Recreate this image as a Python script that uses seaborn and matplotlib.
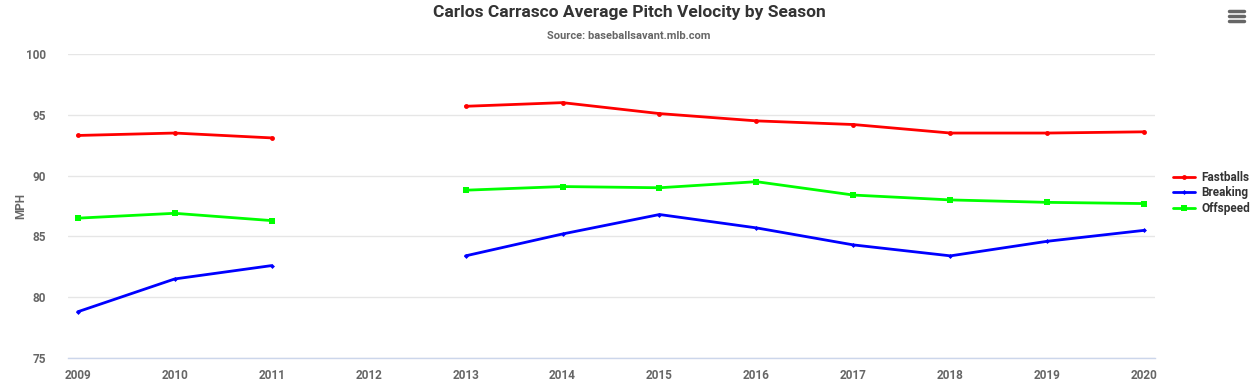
import pandas as pd
import matplotlib.pyplot as plt
import matplotlib.lines as mlines
import numpy as np
import seaborn as sns

# -----------------------------
# datos
# -----------------------------
seasons = [2009, 2010, 2011, 2012, 2013, 2014, 2015, 2016, 2017, 2018, 2019, 2020]
fastballs = [93.3, 93.5, 93.1, np.nan, 95.7, 96.0, 95.1, 94.5, 94.2, 93.5, 93.5, 93.6]
breaking = [78.8, 81.5, 82.6, np.nan, 83.4, 85.2, 86.8, 85.7, 84.3, 83.4, 84.6, 85.5]
offspeed = [86.5, 86.9, 86.3, np.nan, 88.8, 89.1, 89.0, 89.5, 88.4, 88.0, 87.8, 87.7]
pitch_names = ["Fastballs", "Breaking", "Offspeed"]
y_ticks = [75, 80, 85, 90, 95, 100]

colores = {"Fastballs": "#ff0000", "Breaking": "#0000ff", "Offspeed": "#00ff00"}
marcadores = {"Fastballs": "o", "Breaking": "D", "Offspeed": "s"}
tam_marcador = {"Fastballs": 3.5, "Breaking": 2.5, "Offspeed": 4}

# tabla larga, con un "tramo" para cortar la linea en 2012
filas = []
for nombre, valores in zip(pitch_names, [fastballs, breaking, offspeed]):
    tramo = 0
    for s, v in zip(seasons, valores):
        if np.isnan(v):
            tramo += 1
            continue
        filas.append({"season": s, "mph": v, "pitch": nombre, "tramo": tramo})
df = pd.DataFrame(filas)

sns.set_theme(style="white")
plt.rcParams["font.family"] = ["Roboto", "DejaVu Sans"]

fig = plt.figure(figsize=(12.58, 3.91), dpi=100)
ax = fig.add_axes([68 / 1258, 1 - 358 / 391, (1155 - 68) / 1258, (358 - 54) / 391])

for nombre in pitch_names:
    sub = df[df["pitch"] == nombre]
    sns.lineplot(data=sub, x="season", y="mph", units="tramo", estimator=None,
                 color=colores[nombre], marker=marcadores[nombre],
                 markersize=tam_marcador[nombre], markeredgewidth=0,
                 linewidth=2, ax=ax, legend=False)

ax.set_xlim(seasons[0] - 0.1, seasons[-1] + 0.11)
ax.set_ylim(75, 100)
ax.set_xticks(seasons)
ax.set_xticklabels([str(s) for s in seasons])
ax.set_yticks(y_ticks)
ax.yaxis.grid(True, color="#e6e6e6", linewidth=1)
ax.xaxis.grid(False)
for lado in ["top", "right", "left"]:
    ax.spines[lado].set_visible(False)
ax.spines["bottom"].set_color("#ccd6eb")
ax.spines["bottom"].set_linewidth(1)
ax.tick_params(axis="x", colors="#ccd6eb", length=5, width=1, direction="out", pad=3)
ax.tick_params(axis="y", length=0, pad=16)
for t in ax.get_xticklabels() + ax.get_yticklabels():
    t.set_color("#666666")
    t.set_fontsize(8.5)
    t.set_fontweight("bold")

ax.set_xlabel("")
ax.set_ylabel("MPH", color="#666666", fontsize=8.5, fontweight="bold")
ax.yaxis.set_label_coords((27 - 68) / 1087, 0.5)

fig.text(0.5, 1 - 13 / 391, "Carlos Carrasco Average Pitch Velocity by Season",
         ha="center", va="center", fontsize=12.5, fontweight="bold", color="#333333")
fig.text(0.5, 1 - 36 / 391, "Source: baseballsavant.mlb.com",
         ha="center", va="center", fontsize=8, fontweight="bold", color="#666666")

# leyenda a la derecha
handles = [mlines.Line2D([], [], color=colores[n], marker=marcadores[n],
                         markersize=tam_marcador[n], markeredgewidth=0, linewidth=2)
           for n in pitch_names]
leg = fig.legend(handles, pitch_names, loc="center left",
                 bbox_to_anchor=(1173 / 1258, 1 - 193 / 391), frameon=False,
                 borderpad=0, borderaxespad=0,
                 handlelength=1.9, handletextpad=0.5, labelspacing=0.2,
                 prop={"weight": "bold", "size": 8.5})
for t in leg.get_texts():
    t.set_color("#333333")

# icono de menu
for yy in [11, 16, 21]:
    fig.add_artist(mlines.Line2D([1229 / 1258, 1244 / 1258], [1 - yy / 391, 1 - yy / 391],
                                 color="#666666", linewidth=2.5,
                                 solid_capstyle="round"))

fig.savefig("out.png", dpi=100)
